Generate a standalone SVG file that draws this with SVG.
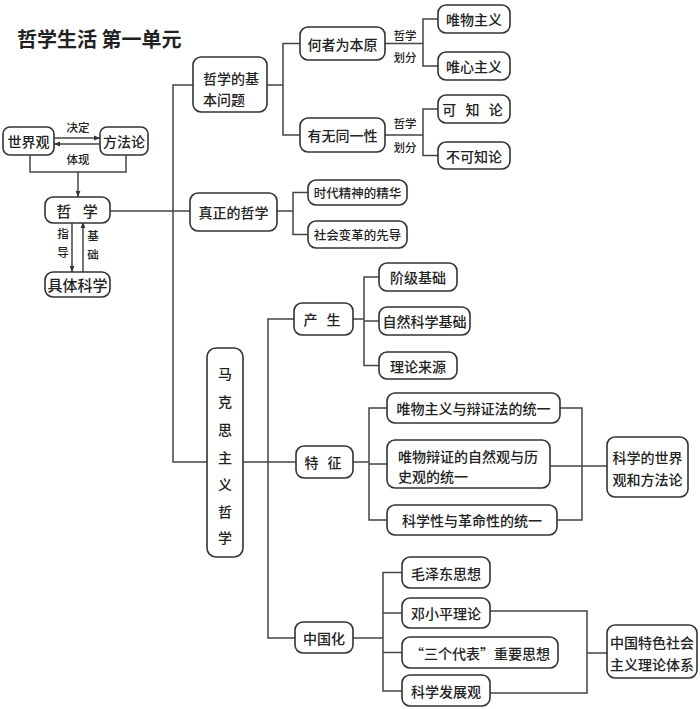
<svg xmlns="http://www.w3.org/2000/svg" width="700" height="709" viewBox="0 0 700 709">
<style>
.b{fill:#fff;stroke:#333;stroke-width:1.6}
.l{fill:none;stroke:#444;stroke-width:1.5}
text{font-family:"Noto Sans CJK SC","Noto Sans",sans-serif;fill:#222;font-weight:500}
.t{font-size:14px;text-anchor:middle;dominant-baseline:central}
.tl{font-size:14px;dominant-baseline:central}
.s{font-size:11.5px;text-anchor:middle;dominant-baseline:central}
.m{font-size:12.5px;text-anchor:middle;dominant-baseline:central}
</style>
<defs>
<marker id="ar" viewBox="0 0 10 10" refX="10" refY="5" markerWidth="6" markerHeight="6" orient="auto" markerUnits="userSpaceOnUse">
<path d="M0,1 L10,5 L0,9 z" fill="#333"/>
</marker>
</defs>
<rect width="700" height="709" fill="#fff"/>
<text x="17" y="38" style="font-size:20px;font-weight:700;dominant-baseline:central">哲学生活 第一单元</text>

<g id="connectors">
<line class="l" x1="54" y1="138" x2="100" y2="138" marker-end="url(#ar)"/>
<line class="l" x1="100" y1="144" x2="54" y2="144" marker-end="url(#ar)"/>
<polyline class="l" points="30,155 30,172 126,172 126,155"/>
<line class="l" x1="78" y1="172" x2="78" y2="197" marker-end="url(#ar)"/>
<line class="l" x1="72" y1="222" x2="72" y2="272" marker-end="url(#ar)"/>
<line class="l" x1="83" y1="272" x2="83" y2="222" marker-end="url(#ar)"/>
<line class="l" x1="110" y1="211" x2="190" y2="211"/>
<polyline class="l" points="193,85 173,85 173,462 207,462"/>
<line class="l" x1="243" y1="462" x2="296" y2="462"/>
<polyline class="l" points="294,319 268,319 268,638 295,638"/>
<line class="l" x1="267" y1="85" x2="283" y2="85"/>
<polyline class="l" points="300,43.5 283,43.5 283,135 300,135"/>
<line class="l" x1="385" y1="43.5" x2="423" y2="43.5"/>
<polyline class="l" points="438,19 423,19 423,66 438,66"/>
<line class="l" x1="385" y1="135" x2="423" y2="135"/>
<polyline class="l" points="438,109 423,109 423,155.5 438,155.5"/>
<line class="l" x1="277" y1="211" x2="293" y2="211"/>
<polyline class="l" points="308,192.5 293,192.5 293,234.5 308,234.5"/>
<line class="l" x1="353" y1="319" x2="364" y2="319"/>
<polyline class="l" points="379,277 364,277 364,365.5 379,365.5"/>
<line class="l" x1="364" y1="321" x2="379" y2="321"/>
<line class="l" x1="353" y1="462" x2="369" y2="462"/>
<polyline class="l" points="387,408 369,408 369,520 387,520"/>
<line class="l" x1="369" y1="464" x2="387" y2="464"/>
<polyline class="l" points="560,408 582,408 582,520 557,520"/>
<line class="l" x1="550" y1="466" x2="607" y2="466"/>
<line class="l" x1="353" y1="638" x2="383" y2="638"/>
<polyline class="l" points="402,572.5 383,572.5 383,691 402,691"/>
<line class="l" x1="383" y1="613" x2="402" y2="613"/>
<line class="l" x1="383" y1="652.5" x2="402" y2="652.5"/>
<polyline class="l" points="490,611 587,611 587,693 490,693"/>
<line class="l" x1="587" y1="653" x2="607" y2="653"/>
<text class="s" x="78" y="127">决定</text>
<text class="s" x="78" y="159">体现</text>
<text class="s" x="63" y="233">指</text>
<text class="s" x="63" y="252">导</text>
<text class="s" x="93" y="235">基</text>
<text class="s" x="93" y="254">础</text>
<text class="s" x="405" y="35">哲学</text>
<text class="s" x="405" y="57">划分</text>
<text class="s" x="405" y="123">哲学</text>
<text class="s" x="405" y="147">划分</text>
</g>

<g id="sjg"><rect class="b" x="3" y="127" width="51" height="28" rx="7"/><text class="t" x="28.5" y="141">世界观</text></g>
<g id="ffl"><rect class="b" x="100" y="127" width="48" height="28" rx="7"/><text class="t" x="124" y="141">方法论</text></g>
<g id="zx"><rect class="b" x="45" y="197" width="65" height="26" rx="8"/><text class="t" x="79" y="210" style="font-size:15px;letter-spacing:4px">哲 学</text></g>
<g id="jtkx"><rect class="b" x="45" y="272" width="65" height="25" rx="8"/><text class="t" x="77.5" y="284.5" style="font-size:15px">具体科学</text></g>
<g id="jbwt"><rect class="b" x="193" y="57" width="74" height="55" rx="8"/><text class="tl" x="203" y="78">哲学的基</text><text class="tl" x="203" y="99">本问题</text></g>
<g id="zzdzx"><rect class="b" x="190" y="193" width="87" height="38" rx="8"/><text class="t" x="233.5" y="212">真正的哲学</text></g>
<g id="hzwby"><rect class="b" x="300" y="27" width="85" height="33" rx="8"/><text class="t" x="342.5" y="43.5">何者为本原</text></g>
<g id="ywtyx"><rect class="b" x="300" y="118" width="85" height="34" rx="8"/><text class="t" x="342.5" y="135">有无同一性</text></g>
<g id="wwzy"><rect class="b" x="438" y="5" width="72" height="28" rx="8"/><text class="t" x="474" y="19">唯物主义</text></g>
<g id="wxzy"><rect class="b" x="438" y="52" width="72" height="28" rx="8"/><text class="t" x="474" y="66">唯心主义</text></g>
<g id="kzl"><rect class="b" x="438" y="95" width="72" height="28" rx="8"/><text class="t" x="474" y="109" style="letter-spacing:3px">可 知 论</text></g>
<g id="bkzl"><rect class="b" x="438" y="142" width="72" height="27" rx="8"/><text class="t" x="474" y="155.5">不可知论</text></g>
<g id="sdjs"><rect class="b" x="308" y="180" width="99" height="25" rx="8"/><text class="m" x="357.5" y="192.5">时代精神的精华</text></g>
<g id="shbg"><rect class="b" x="308" y="221" width="99" height="27" rx="8"/><text class="m" x="357.5" y="234.5">社会变革的先导</text></g>
<g id="mkszyzx"><rect class="b" x="207" y="348" width="36" height="209" rx="9"/>
<text class="t" x="225" y="373">马</text><text class="t" x="225" y="401">克</text><text class="t" x="225" y="429">思</text><text class="t" x="225" y="457">主</text><text class="t" x="225" y="484">义</text><text class="t" x="225" y="511">哲</text><text class="t" x="225" y="537">学</text></g>
<g id="cs"><rect class="b" x="294" y="303" width="59" height="32" rx="8"/><text class="t" x="323.5" y="319" style="letter-spacing:3px">产 生</text></g>
<g id="jjjc"><rect class="b" x="379" y="263" width="78" height="28" rx="8"/><text class="t" x="418" y="277">阶级基础</text></g>
<g id="zrkxjc"><rect class="b" x="379" y="307" width="91" height="28" rx="8"/><text class="t" x="424.5" y="321">自然科学基础</text></g>
<g id="llly"><rect class="b" x="379" y="352" width="78" height="27" rx="8"/><text class="t" x="418" y="365.5">理论来源</text></g>
<g id="tz"><rect class="b" x="296" y="446" width="57" height="32" rx="8"/><text class="t" x="324.5" y="462" style="letter-spacing:3px">特 征</text></g>
<g id="wwzyybzf"><rect class="b" x="387" y="393" width="173" height="30" rx="8"/><text class="t" x="473.5" y="408">唯物主义与辩证法的统一</text></g>
<g id="wwbz"><rect class="b" x="387" y="440" width="163" height="48" rx="8"/><text class="tl" x="398" y="456">唯物辩证的自然观与历</text><text class="tl" x="398" y="476">史观的统一</text></g>
<g id="kxxgmx"><rect class="b" x="387" y="505" width="170" height="30" rx="8"/><text class="t" x="472" y="520">科学性与革命性的统一</text></g>
<g id="kxdsjg"><rect class="b" x="607" y="437" width="81" height="60" rx="8"/><text class="t" x="647.5" y="457">科学的世界</text><text class="t" x="647.5" y="479">观和方法论</text></g>
<g id="zgh"><rect class="b" x="295" y="622" width="58" height="31" rx="8"/><text class="t" x="324" y="637.5">中国化</text></g>
<g id="mzdsx"><rect class="b" x="402" y="557" width="88" height="31" rx="8"/><text class="t" x="446" y="572.5">毛泽东思想</text></g>
<g id="dxpll"><rect class="b" x="402" y="598" width="88" height="30" rx="8"/><text class="t" x="446" y="613">邓小平理论</text></g>
<g id="sgdb"><rect class="b" x="402" y="637" width="156" height="31" rx="8"/><text class="t" x="480" y="652.5">“三个代表”重要思想</text></g>
<g id="kxfzg"><rect class="b" x="402" y="675" width="88" height="31" rx="8"/><text class="t" x="446" y="690.5">科学发展观</text></g>
<g id="zgts"><rect class="b" x="607" y="625" width="90" height="53" rx="8"/><text class="t" x="652" y="642">中国特色社会</text><text class="t" x="652" y="664">主义理论体系</text></g>
</svg>
